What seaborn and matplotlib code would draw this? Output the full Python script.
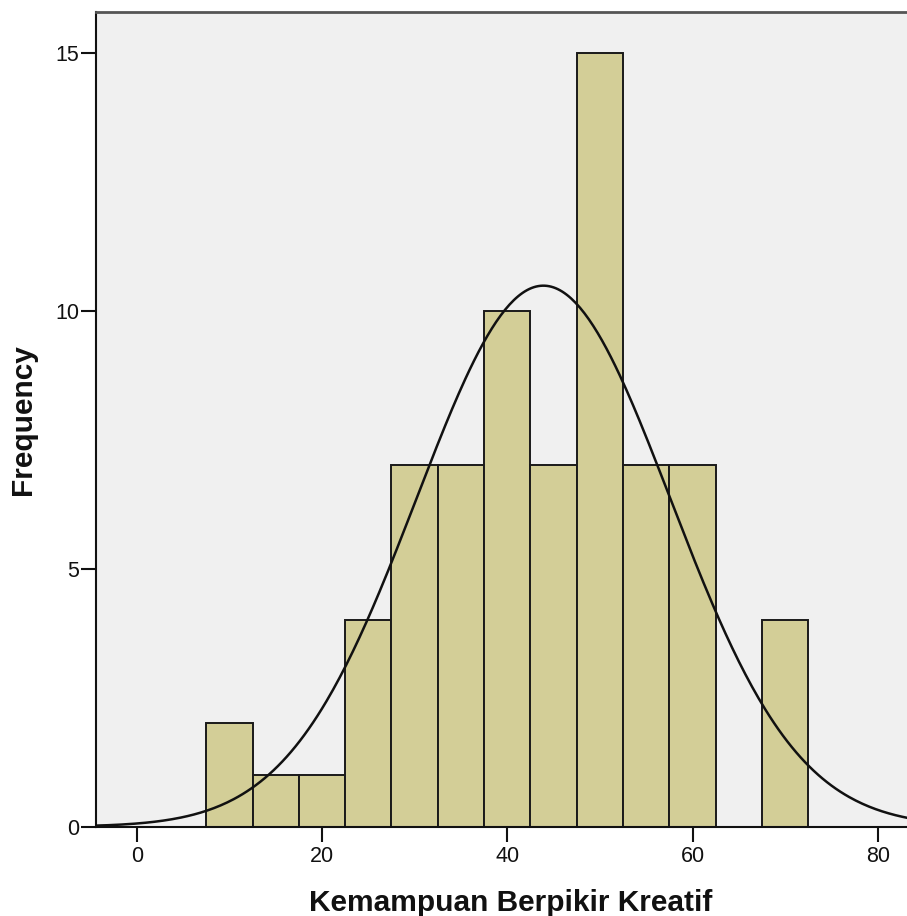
import numpy as np
import pandas as pd
import matplotlib
matplotlib.use("Agg")
import matplotlib.pyplot as plt
import seaborn as sns

# Data
bin_edges = [7.5, 12.5, 17.5, 22.5, 27.5, 32.5, 37.5, 42.5, 47.5, 52.5, 57.5, 62.5, 67.5, 72.5]
bin_mids = [10, 15, 20, 25, 30, 35, 40, 45, 50, 55, 60, 65, 70]
counts = [2, 1, 1, 4, 7, 7, 10, 7, 15, 7, 7, 0, 4]
curve_mean = 43.9
curve_sd = 13.7
x_ticks = [0, 20, 40, 60, 80]
y_ticks = [0, 5, 10, 15]

sns.set_style("ticks")
plt.rcParams['font.family'] = ['Liberation Sans', 'DejaVu Sans']

W, H = 907, 916
fig = plt.figure(figsize=(W / 100, H / 100), dpi=100)
ax_left, ax_right = 96, 925
ax_top, ax_bottom = 12.3, 826.7
ax = fig.add_axes([ax_left / W, (H - ax_bottom) / H, (ax_right - ax_left) / W, (ax_bottom - ax_top) / H])
ax.set_facecolor("#f0f0f0")

df = pd.DataFrame({"score": bin_mids, "n": counts})
sns.histplot(data=df, x="score", weights="n", bins=bin_edges, ax=ax,
             color="#d3ce97", alpha=1, edgecolor="#1a1a1a", linewidth=1.4)

n_total = sum(counts)
width = bin_edges[1] - bin_edges[0]
xs = np.linspace(-5, 90, 400)
ys = n_total * width / (curve_sd * np.sqrt(2 * np.pi)) * np.exp(-0.5 * ((xs - curve_mean) / curve_sd) ** 2)
sns.lineplot(x=xs, y=ys, ax=ax, color="#111111", linewidth=1.8)

ax.set_xlim(-4.4, 85.1)
ax.set_ylim(0, 15.78)
ax.set_xticks(x_ticks)
ax.set_yticks(y_ticks)
ax.tick_params(axis="both", direction="out", length=11, width=1.5, labelsize=15.5, colors="#111111")
ax.tick_params(axis="y", pad=1)
ax.tick_params(axis="x", pad=3)
for s in ["left", "bottom"]:
    ax.spines[s].set_color("#111111")
    ax.spines[s].set_linewidth(1.5)
ax.spines["top"].set_color("#555555")
ax.spines["top"].set_linewidth(2)
ax.spines["right"].set_visible(False)

ax.set_xlabel("Kemampuan Berpikir Kreatif", fontsize=21.5, fontweight="bold", labelpad=16, color="#111111")
ax.set_ylabel("Frequency", fontsize=21.5, fontweight="bold", labelpad=13, color="#111111")

fig.savefig("out.png", dpi=100)
